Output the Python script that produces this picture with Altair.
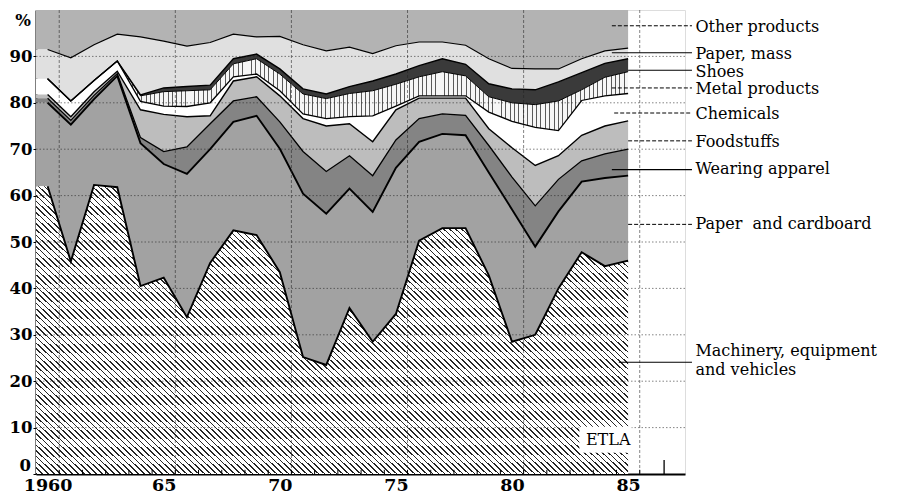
import altair as alt
import pandas as pd

years = list(range(1960, 1986))

series = ["Machinery, equipment and vehicles", "Paper and cardboard", "Wearing apparel",
          "Foodstuffs", "Chemicals", "Metal products", "Shoes", "Paper, mass", "Other products"]

# cumulative upper edge of each band (% of exports)
top_machinery = [62.0, 45.8, 62.3, 61.8, 40.5, 42.3, 33.8, 45.5, 52.5, 51.5, 43.5, 25.2, 23.5,
                 35.8, 28.5, 34.5, 50.3, 53.0, 53.0, 42.8, 28.5, 30.0, 40.0, 47.8, 44.8, 46.0]
top_paper_cardboard = [80.0, 75.3, 80.8, 85.8, 71.3, 66.8, 64.7, 70.0, 75.9, 77.2, 70.1, 60.4, 56.1,
                       61.5, 56.5, 66.0, 71.6, 73.3, 73.0, 65.0, 57.0, 49.0, 56.6, 63.0, 63.8, 64.3]
top_wearing = [81.0, 76.2, 81.6, 86.3, 72.5, 69.5, 70.5, 75.5, 80.4, 81.3, 75.9, 69.5, 65.2,
               68.6, 64.3, 72.0, 76.6, 77.6, 77.3, 70.8, 64.0, 57.8, 63.5, 67.5, 69.0, 70.0]
top_food = [81.8, 77.0, 82.4, 86.8, 78.5, 77.5, 77.0, 77.2, 84.7, 85.6, 81.5, 76.6, 75.0,
            75.5, 71.6, 78.5, 81.0, 81.0, 81.0, 74.4, 70.3, 66.5, 68.6, 73.0, 75.0, 76.1]
top_chem = [85.2, 80.4, 84.8, 89.0, 80.3, 79.3, 79.2, 80.0, 85.6, 86.2, 82.6, 77.6, 76.6,
            77.0, 77.2, 79.3, 81.5, 81.5, 81.5, 78.0, 76.0, 74.7, 74.0, 80.5, 81.5, 82.0]
top_metal = [85.2, 80.4, 84.8, 89.0, 81.5, 82.4, 82.6, 82.8, 88.4, 89.5, 86.2, 81.9, 80.9,
             82.0, 82.6, 84.0, 85.6, 86.7, 85.8, 81.3, 80.0, 79.6, 80.4, 82.8, 85.5, 86.7]
top_shoes = [85.2, 80.4, 84.8, 89.0, 81.7, 83.2, 83.5, 83.8, 89.5, 90.5, 87.3, 83.0, 81.9,
             83.5, 84.7, 86.2, 88.0, 89.5, 88.3, 84.1, 83.0, 82.8, 84.5, 86.5, 88.5, 89.5]
top_paper_mass = [91.5, 89.7, 92.5, 94.8, 94.2, 93.3, 92.2, 93.0, 94.8, 94.2, 94.3, 92.5, 91.2,
                  92.0, 90.6, 92.3, 93.1, 93.1, 92.4, 89.5, 87.4, 87.3, 87.3, 89.5, 91.2, 91.8]
top_other = [100.0] * 26

tops = [top_machinery, top_paper_cardboard, top_wearing, top_food, top_chem,
        top_metal, top_shoes, top_paper_mass, top_other]

fills = ["#c4c4c4", "#a2a2a2", "#848484", "#bdbdbd", "#ffffff",
         "#dcdcdc", "#3a3a3a", "#e0e0e0", "#b3b3b3"]
line_widths = [1.9, 1.9, 1.3, 1.4, 1.3, 1.0, 1.4, 1.2, 0]

X_LEFT = 1959.5  # left edge of the plot frame; the fills start at the axis
rows, fill_rows = [], []
for i, name in enumerate(series):
    for j, yr in enumerate(years):
        lower = tops[i - 1][j] if i > 0 else 0.0
        r = {"series": name, "year": yr, "lower": lower, "upper": tops[i][j], "lw": line_widths[i]}
        rows.append(r)
        fill_rows.append(r)
        if j == 0:
            fill_rows.append(dict(r, year=X_LEFT))
df = pd.DataFrame(rows)
df_fill = pd.DataFrame(fill_rows).sort_values(["series", "year"])


def stripes(n, frac, c_line, c_bg):
    stops = []
    for k in range(n):
        a = k / n
        b = (k + frac) / n
        c = (k + 1) / n
        stops += [{"offset": round(a, 5), "color": c_line},
                  {"offset": round(b, 5), "color": c_line},
                  {"offset": round(b, 5), "color": c_bg},
                  {"offset": round(c, 5), "color": c_bg}]
    return stops


hatch_diag = {"gradient": "linear", "x1": 0, "y1": 1, "x2": 1.2, "y2": 0.38,
              "stops": stripes(150, 0.26, "#262626", "#ffffff")}
hatch_vert = {"gradient": "linear", "x1": 0, "y1": 0, "x2": 1, "y2": 0,
              "stops": stripes(135, 0.22, "#5a5a5a", "#f6f6f6")}

# labels at the right
label_texts = ["Other products", "Paper, mass", "Shoes", "Metal products", "Chemicals",
               "Foodstuffs", "Wearing apparel", "Paper\u00a0 and cardboard",
               "Machinery, equipment\nand vehicles"]
leader_pos = [96.6, 90.8, 87.0, 83.2, 77.8, 71.8, 65.6, 53.8, 24.1]
label_pos = [96.4, 90.6, 86.7, 82.9, 77.6, 71.5, 65.8, 53.8, 26.5]
leader_start = [1984.3, 1984.3, 1985.0, 1984.3, 1984.4, 1985.0, 1984.3, 1985.0, 1984.6]
leader_dashed = [True, False, False, True, True, True, False, True, False]
lab = pd.DataFrame({"text": label_texts, "y": label_pos, "yl": leader_pos, "x0": leader_start,
                    "x1": [1987.75] * 9, "xt": [1987.9] * 9, "dashed": leader_dashed})

grid_y = [10, 20, 30, 40, 50, 60, 70, 80, 90]
grid_x = [1960.5, 1965.5, 1970.5, 1975.5, 1980.5, 1985.5]
minor_x = [y + 0.5 for y in range(1960, 1986)]

xscale = alt.Scale(domain=[X_LEFT, 1987.45], nice=False, zero=False)
yscale = alt.Scale(domain=[0, 100], nice=False)

x_enc = alt.X("year:Q", scale=xscale, title=None,
              axis=alt.Axis(values=[1960, 1965, 1970, 1975, 1980, 1985], format="d",
                            labelExpr="datum.value == 1960 ? '1960' : slice(datum.label, 2)",
                            ticks=False, grid=False, domainColor="black", domainWidth=2,
                            labelFont="DejaVu Serif", labelFontWeight="bold", labelFontSize=17.5,
                            labelColor="black", labelPadding=2))
y_enc = alt.Y("lower:Q", scale=yscale, title=None,
              axis=alt.Axis(values=[0] + grid_y, grid=False, tickSize=3, tickColor="black",
                            labelExpr="datum.value == 0 ? '' : datum.label",
                            domainColor="black", domainWidth=2,
                            labelFont="DejaVu Serif", labelFontWeight="bold", labelFontSize=16.5,
                            labelColor="black", labelPadding=1))

plain = [s for s in series if s not in ("Machinery, equipment and vehicles", "Metal products")]
areas = alt.Chart(df_fill[df_fill["series"].isin(plain)]).mark_area(
    interpolate="linear", strokeWidth=0).encode(
    x=x_enc, y=y_enc, y2="upper:Q",
    color=alt.Color("series:N", scale=alt.Scale(domain=series, range=fills), legend=None),
)

mach = alt.Chart(df_fill[df_fill["series"] == series[0]]).mark_area(
    interpolate="linear", strokeWidth=0, fill=hatch_diag
).encode(x=alt.X("year:Q", scale=xscale), y=alt.Y("lower:Q", scale=yscale), y2="upper:Q")

metal = alt.Chart(df_fill[df_fill["series"] == "Metal products"]).mark_area(
    interpolate="linear", strokeWidth=0, fill=hatch_vert
).encode(x=alt.X("year:Q", scale=xscale), y=alt.Y("lower:Q", scale=yscale), y2="upper:Q")

lines = alt.Chart(df[df["series"] != "Other products"]).mark_line(
    color="black", interpolate="linear").encode(
    x=alt.X("year:Q", scale=xscale),
    y=alt.Y("upper:Q", scale=yscale),
    detail="series:N",
    strokeWidth=alt.StrokeWidth("lw:Q", scale=None),
)

hgrid = alt.Chart(pd.DataFrame({"v": grid_y})).mark_rule(
    color="#222222", strokeWidth=0.8, strokeDash=[1.5, 2], opacity=0.7
).encode(y=alt.Y("v:Q", scale=yscale))

vgrid = alt.Chart(pd.DataFrame({"v": grid_x})).mark_rule(
    color="#222222", strokeWidth=0.8, strokeDash=[3, 2], opacity=0.7
).encode(x=alt.X("v:Q", scale=xscale))

minor = alt.Chart(pd.DataFrame({"v": minor_x})).mark_rule(color="black", strokeWidth=1).encode(
    x=alt.X("v:Q", scale=xscale), y=alt.datum(0), y2=alt.datum(0.9))

tall_tick = alt.Chart(pd.DataFrame({"v": [1986.55]})).mark_rule(color="black", strokeWidth=1.3).encode(
    x=alt.X("v:Q", scale=xscale), y=alt.datum(0), y2=alt.datum(3.0))

leaders_solid = alt.Chart(lab[~lab["dashed"]]).mark_rule(color="black", strokeWidth=1.1, clip=False).encode(
    x=alt.X("x0:Q", scale=xscale), x2="x1:Q", y=alt.Y("yl:Q", scale=yscale))
leaders_dashed = alt.Chart(lab[lab["dashed"]]).mark_rule(
    color="black", strokeWidth=1.0, strokeDash=[4, 2], clip=False).encode(
    x=alt.X("x0:Q", scale=xscale), x2="x1:Q", y=alt.Y("yl:Q", scale=yscale))

labels = alt.Chart(lab).mark_text(
    align="left", baseline="middle", font="DejaVu Serif", fontSize=16, color="black",
    lineBreak="\n", lineHeight=18.5, clip=False
).encode(x=alt.X("xt:Q", scale=xscale), y=alt.Y("y:Q", scale=yscale), text="text:N")

corner = alt.Chart(pd.DataFrame({"t": ["%", "0"], "y": [97.6, 1.7]})).mark_text(
    align="right", baseline="middle", font="DejaVu Serif", fontWeight="bold", fontSize=16.5,
    color="black", dx=-5, clip=False
).encode(x=alt.datum(X_LEFT, scale=xscale), y=alt.Y("y:Q", scale=yscale), text="t:N")

etla_box = alt.Chart(pd.DataFrame({"x": [1982.9], "x2": [1985.15], "y": [4.6], "y2": [10.2]})).mark_rect(
    color="white").encode(x=alt.X("x:Q", scale=xscale), x2="x2:Q", y=alt.Y("y:Q", scale=yscale), y2="y2:Q")
etla = alt.Chart(pd.DataFrame({"t": ["ETLA"]})).mark_text(
    align="right", baseline="middle", font="DejaVu Serif", fontSize=16, color="black"
).encode(x=alt.datum(1985.1), y=alt.datum(7.3), text="t:N")

chart = alt.layer(
    areas, mach, metal, lines, hgrid, vgrid, minor, tall_tick, etla_box, etla,
    leaders_solid, leaders_dashed, labels, corner
).properties(
    width=649, height=464,
    padding={"left": 28, "top": 2, "right": 218, "bottom": 20},
    autosize=alt.AutoSizeParams(type="none"),
).configure_view(stroke="black", strokeWidth=1.5, fill="white").configure(background="white")

chart.save("out.html", embed_options={"renderer": "svg", "actions": False})
